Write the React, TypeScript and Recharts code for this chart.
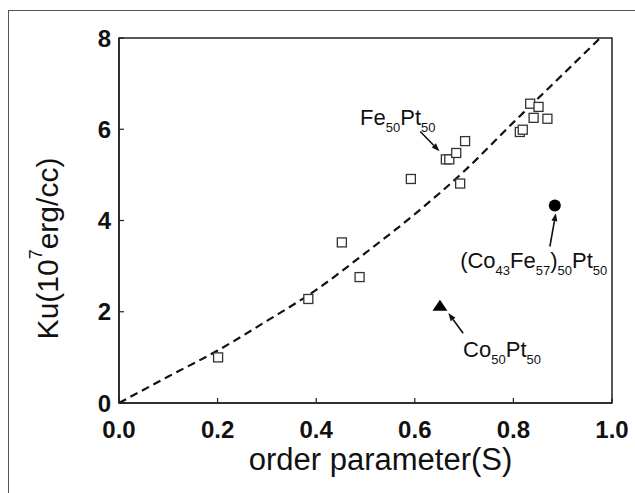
import {
  ComposedChart,
  Line,
  Scatter,
  XAxis,
  YAxis,
  ReferenceArea,
  ReferenceLine,
  ReferenceDot,
} from "recharts";

// Fe50Pt50 films (open squares)
const feptS = [0.201, 0.384, 0.452, 0.488, 0.592, 0.663, 0.67, 0.684, 0.702, 0.692, 0.813, 0.819, 0.834, 0.841, 0.851, 0.869];
const feptKu = [1.0, 2.28, 3.52, 2.76, 4.91, 5.34, 5.34, 5.48, 5.74, 4.81, 5.94, 5.99, 6.56, 6.25, 6.49, 6.23];

// Co50Pt50 (filled triangle) and (Co43Fe57)50Pt50 (filled circle)
const coptS = [0.651];
const coptKu = [2.11];
const cofeptS = [0.884];
const cofeptKu = [4.33];

// dashed guide curve
const fitS = [0, 0.1, 0.2, 0.3, 0.4, 0.5, 0.6, 0.7, 0.8, 0.9, 0.976];
const fitKu = [0, 0.58, 1.15, 1.8, 2.48, 3.29, 4.14, 5.08, 6.15, 7.2, 8.0];

const xTicks = [0, 0.2, 0.4, 0.6, 0.8, 1.0];
const yTicks = [0, 2, 4, 6, 8];

const zip = (xs: number[], ys: number[]) => xs.map((x, i) => ({ x, y: ys[i] }));

const FONT = "'Liberation Sans', Arial, Helvetica, sans-serif";
const INK = "#222";

const SquareDot = (p: any) => (
  <rect x={p.cx - 4.5} y={p.cy - 4.5} width={9} height={9} fill="#fff" stroke="#333" strokeWidth={1.3} />
);
const CircleDot = (p: any) => <circle cx={p.cx} cy={p.cy} r={6} fill="#000" />;
const TriangleDot = (p: any) => (
  <polygon points={`${p.cx},${p.cy - 7} ${p.cx - 7.5},${p.cy + 4} ${p.cx + 7.5},${p.cy + 4}`} fill="#000" />
);

const XTick = (p: any) => (
  <g>
    <line x1={p.x} y1={p.y} x2={p.x} y2={p.y - 5} stroke={INK} strokeWidth={1.2} />
    <text x={p.x} y={p.y + 35} textAnchor="middle" fontSize={24} fontWeight="bold" fontFamily={FONT} fill="#111">
      {p.payload.value.toFixed(1)}
    </text>
  </g>
);

const YTick = (p: any) => (
  <g>
    <line x1={p.x + 8} y1={p.y} x2={p.x + 13} y2={p.y} stroke={INK} strokeWidth={1.2} />
    <text x={p.x} y={p.y + 8.5} textAnchor="end" fontSize={24} fontWeight="bold" fontFamily={FONT} fill="#111">
      {p.payload.value}
    </text>
  </g>
);

const Arrow = (p: any) => {
  const { x1, y1, x2, y2 } = p;
  const a = Math.atan2(y2 - y1, x2 - x1);
  const L = 8;
  const W = 3;
  const bx = x2 - L * Math.cos(a);
  const by = y2 - L * Math.sin(a);
  const nx = -Math.sin(a) * W;
  const ny = Math.cos(a) * W;
  return (
    <g>
      <line x1={x1} y1={y1} x2={bx} y2={by} stroke="#111" strokeWidth={1.6} />
      <polygon points={`${x2},${y2} ${bx + nx},${by + ny} ${bx - nx},${by - ny}`} fill="#111" />
    </g>
  );
};

// chemical formula label: [text, isSubscript]
const Formula = ({ vb, parts }: { vb: any; parts: [string, boolean][] }) => {
  let prevSub = false;
  return (
    <text x={vb.x} y={vb.y} fontFamily={FONT} fill="#111">
      {parts.map(([t, sub], i) => {
        const dy = sub && !prevSub ? 7 : !sub && prevSub ? -7 : 0;
        prevSub = sub;
        return (
          <tspan key={i} dy={dy} fontSize={sub ? 13 : 22}>
            {t}
          </tspan>
        );
      })}
    </text>
  );
};

const labels: { x: number; y: number; parts: [string, boolean][] }[] = [
  { x: 0.489, y: 6.09, parts: [["Fe", false], ["50", true], ["Pt", false], ["50", true]] },
  {
    x: 0.692,
    y: 2.96,
    parts: [["(Co", false], ["43", true], ["Fe", false], ["57", true], [")", false], ["50", true], ["Pt", false], ["50", true]],
  },
  { x: 0.698, y: 1.01, parts: [["Co", false], ["50", true], ["Pt", false], ["50", true]] },
];

const arrows = [
  { from: { x: 0.611, y: 5.95 }, to: { x: 0.65, y: 5.52 } },
  { from: { x: 0.874, y: 3.43 }, to: { x: 0.886, y: 4.16 } },
  { from: { x: 0.698, y: 1.53 }, to: { x: 0.668, y: 1.97 } },
];

export default function App() {
  return (
    <div style={{ position: "absolute", left: 0, top: 0, width: 635, height: 493, background: "#fff", overflow: "hidden" }}>
      <div
        style={{
          position: "absolute",
          left: 8,
          top: 10,
          right: -5,
          bottom: -5,
          borderTop: "1.5px solid #555",
          borderLeft: "1.5px solid #555",
        }}
      />
      <ComposedChart width={635} height={493} margin={{ top: 38, right: 23, bottom: 40, left: 59 }}>
        <XAxis
          type="number"
          dataKey="x"
          domain={[0, 1]}
          ticks={xTicks}
          height={50}
          tickSize={0}
          tickMargin={0}
          tick={<XTick />}
          axisLine={{ stroke: INK, strokeWidth: 1.5 }}
          label={{
            content: (lp: any) => (
              <text
                x={lp.viewBox.x + lp.viewBox.width / 2 + 15}
                y={lp.viewBox.y + 67}
                textAnchor="middle"
                fontSize={31}
                fontFamily={FONT}
                fill="#111"
              >
                order parameter(S)
              </text>
            ),
          }}
        />
        <YAxis
          type="number"
          dataKey="y"
          domain={[0, 8]}
          ticks={yTicks}
          width={60}
          tickSize={0}
          tickMargin={8}
          tick={<YTick />}
          axisLine={{ stroke: INK, strokeWidth: 1.5 }}
          label={{
            content: (lp: any) => {
              const cx = lp.viewBox.x + lp.viewBox.width - 72;
              const cy = lp.viewBox.y + lp.viewBox.height / 2 + 28;
              return (
                <text
                  x={cx}
                  y={cy}
                  transform={`rotate(-90 ${cx} ${cy})`}
                  textAnchor="middle"
                  dominantBaseline="central"
                  fontSize={30}
                  fontFamily={FONT}
                  fill="#111"
                >
                  Ku(10
                  <tspan fontSize={18} dy={-11}>
                    7
                  </tspan>
                  <tspan dy={11}>erg/cc)</tspan>
                </text>
              );
            },
          }}
        />
        <ReferenceArea x1={0} x2={1} y1={0} y2={8} fill="none" stroke={INK} strokeWidth={1.5} ifOverflow="visible" />
        <Line
          data={zip(fitS, fitKu)}
          dataKey="y"
          type="monotone"
          stroke="#111"
          strokeWidth={2.2}
          strokeDasharray="8 5"
          dot={false}
          activeDot={false}
          isAnimationActive={false}
        />
        <Scatter data={zip(feptS, feptKu)} shape={SquareDot} isAnimationActive={false} />
        <Scatter data={zip(coptS, coptKu)} shape={TriangleDot} isAnimationActive={false} />
        <Scatter data={zip(cofeptS, cofeptKu)} shape={CircleDot} isAnimationActive={false} />
        {arrows.map((a, i) => (
          <ReferenceLine key={`a${i}`} segment={[a.from, a.to]} shape={Arrow} ifOverflow="visible" />
        ))}
        {labels.map((l, i) => (
          <ReferenceDot
            key={`l${i}`}
            x={l.x}
            y={l.y}
            r={0}
            fill="none"
            stroke="none"
            ifOverflow="visible"
            label={{ content: (lp: any) => <Formula vb={lp.viewBox} parts={l.parts} /> }}
          />
        ))}
      </ComposedChart>
    </div>
  );
}
